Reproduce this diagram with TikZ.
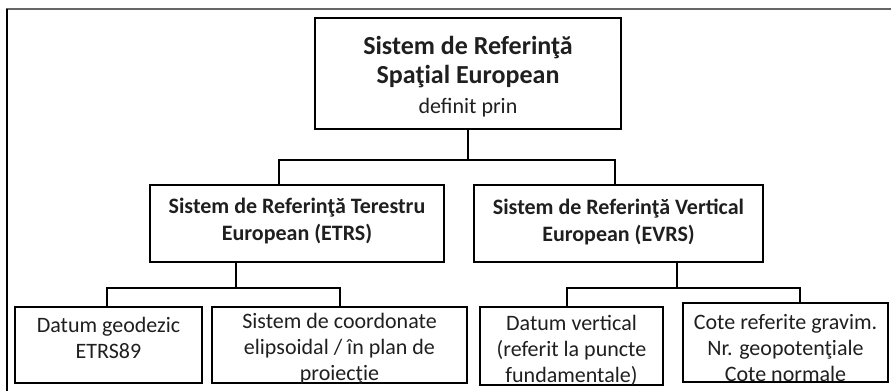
\documentclass[tikz,border=0pt]{standalone}
\usepackage{fontspec}
\setmainfont{Carlito}
\begin{document}
\begin{tikzpicture}[x=1pt,y=-1pt,
  box/.style={draw, line width=1.6pt, inner sep=0pt},
  txt/.style={align=center, inner sep=0pt, text=black!88,
    font=\fontsize{22}{26}\selectfont},
  conn/.style={line width=1.6pt}]
\useasboundingbox (0,0) rectangle (891,391);
% frame
\draw[line width=2pt, gray!80!black] (6,9) -- (891,9);
\draw[line width=1.8pt] (7,9) -- (7,391);
% boxes
\node[box, minimum width=306pt, minimum height=111pt] (top) at (468,73.5) {};
\node[box, minimum width=294pt, minimum height=77pt] (ml) at (297,223.5) {};
\node[box, minimum width=289pt, minimum height=77pt] (mr) at (618.5,223.5) {};
\node[box, minimum width=187pt, minimum height=76pt] (b1) at (108.5,345) {};
\node[box, minimum width=255pt, minimum height=76pt] (b2) at (339.5,345) {};
\node[box, minimum width=183pt, minimum height=78pt] (b3) at (571.5,346) {};
\node[box, minimum width=205pt, minimum height=79pt] (b4) at (785.5,342.5) {};
% texts
\node[txt, font=\fontsize{22}{29.5}\selectfont] (topt) at ([yshift=-3pt]top.center)
  {{\fontsize{26}{29.5}\selectfont\bfseries Sistem de Referinţă}\\
   {\fontsize{26}{29.5}\selectfont\bfseries Spaţial European}\\ definit prin};
\node[txt, font=\fontsize{22}{27}\selectfont\bfseries] (mlt) at ([yshift=2pt]ml.center)
  {Sistem de Referinţă Terestru\\ European (ETRS)};
\node[txt, font=\fontsize{22}{27}\selectfont\bfseries] (mrt) at ([yshift=2pt]mr.center)
  {Sistem de Referinţă Vertical\\ European (EVRS)};
\node[txt] (b1t) at ([yshift=7pt]b1.center) {Datum geodezic\\ ETRS89};
\node[txt] (b2t) at ([yshift=-3.5pt]b2.center)
  {Sistem de coordonate\\ elipsoidal / în plan de\\ proiecţie};
\node[txt] (b3t) at ([yshift=-4.5pt]b3.center)
  {Datum vertical\\ (referit la puncte\\ fundamentale)};
\node[txt] (b4t) at ([yshift=-5.5pt]b4.center)
  {Cote referite gravim.\\ Nr. geopotenţiale\\ Cote normale};
% junction coordinates
\coordinate (j1) at (468,160);
\coordinate (j1l) at (279,160);
\coordinate (j1r) at (615,160);
\coordinate (j2) at (236,288);
\coordinate (j2l) at (107,288);
\coordinate (j2r) at (340,288);
\coordinate (j3) at (677,288);
\coordinate (j3l) at (567,288);
\coordinate (j3r) at (800,288);
% connectors
\draw[conn] (top.south -| j1) -- (j1);
\draw[conn] (ml.north -| j1l) -- (j1l) -- (j1r) -- (mr.north -| j1r);
\draw[conn] (ml.south -| j2) -- (j2);
\draw[conn] (b1.north -| j2l) -- (j2l) -- (j2r) -- (b2.north -| j2r);
\draw[conn] (mr.south -| j3) -- (j3);
\draw[conn] (b3.north -| j3l) -- (j3l) -- (j3r) -- (b4.north -| j3r);
\end{tikzpicture}
\end{document}
